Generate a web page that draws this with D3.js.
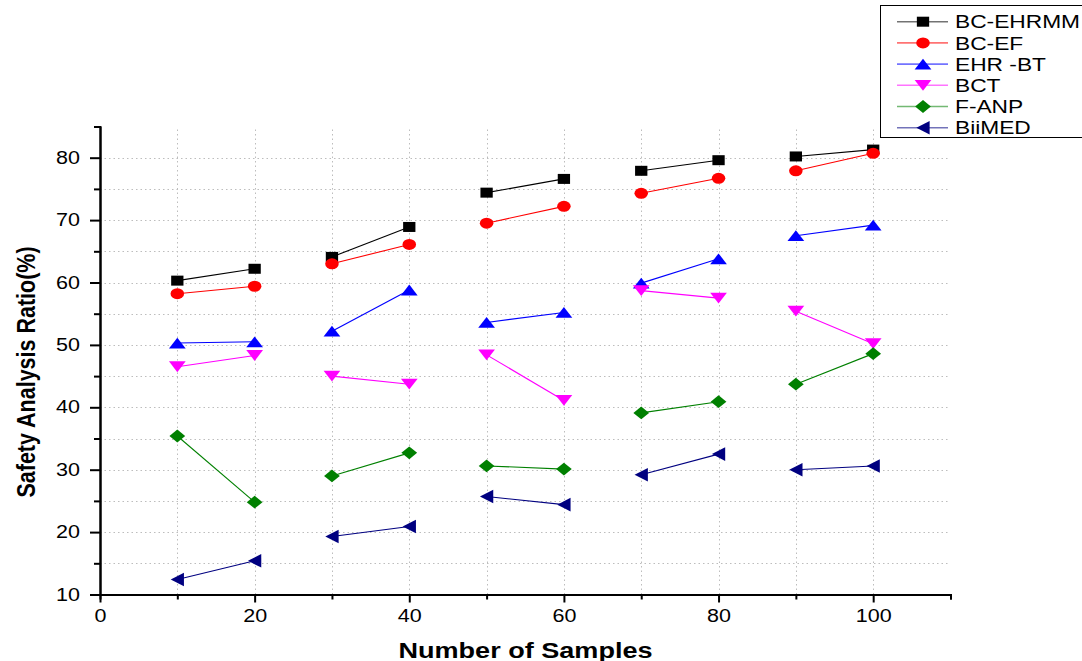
<!DOCTYPE html>
<html>
<head>
<meta charset="utf-8">
<script src="https://cdn.jsdelivr.net/npm/d3@7"></script>
<style>
  html, body { margin: 0; padding: 0; background: #fff; }
  svg { display: block; font-family: "Liberation Sans", Arial, sans-serif; }
</style>
</head>
<body>
<svg id="chart" width="1082" height="661"></svg>
<script>
// ── Data ──────────────────────────────────────────────
const samples  = [10, 20, 30, 40, 50, 60, 70, 80, 90, 100];
const bcEhrmm  = [60.3, 62.2, 64.1, 68.9, 74.4, 76.6, 77.9, 79.6, 80.2, 81.3];
const bcEf     = [58.2, 59.4, 63.0, 66.1, 69.5, 72.2, 74.3, 76.7, 77.9, 80.7];
const ehrBt    = [50.3, 50.5, 52.2, 58.8, 53.6, 55.2, 59.9, 63.8, 67.5, 69.2];
const bct      = [46.5, 48.3, 45.0, 43.7, 48.4, 41.1, 58.7, 57.5, 55.4, 50.2];
const fAnp     = [35.4, 24.8, 29.0, 32.7, 30.6, 30.1, 39.1, 40.9, 43.7, 48.6];
const biiMed   = [12.4, 15.4, 19.3, 20.9, 25.7, 24.4, 29.2, 32.5, 30.0, 30.6];

const seriesNames  = ['BC-EHRMM', 'BC-EF', 'EHR -BT', 'BCT', 'F-ANP', 'BiiMED'];
const seriesValues = [bcEhrmm, bcEf, ehrBt, bct, fAnp, biiMed];
const seriesColors = ['#000000', '#ff0000', '#0000ff', '#ff00ff', '#008000', '#000080'];
const seriesShapes = ['square', 'circle', 'up', 'down', 'diamond', 'left'];

const xTicks = [0, 20, 40, 60, 80, 100];
const yTicks = [10, 20, 30, 40, 50, 60, 70, 80];

// Origin export is stretched horizontally
const SX = 1.23;

// ── Scales ────────────────────────────────────────────
const x = d3.scaleLinear().domain([0, 110]).range([100, 950.5]);
const y = d3.scaleLinear().domain([10, 85]).range([594.5, 126.5]);

const svg = d3.select('#chart');

// ── Grid (dotted) ─────────────────────────────────────
const grid = svg.append('g')
  .attr('stroke', '#bdbdbd')
  .attr('stroke-width', 1)
  .attr('stroke-dasharray', '1.5 3');

grid.selectAll('.hg')
  .data(d3.range(15, 81, 5))
  .join('line')
    .attr('x1', x(0)).attr('x2', x(110))
    .attr('y1', d => Math.round(y(d)) + 0.5)
    .attr('y2', d => Math.round(y(d)) + 0.5);

grid.selectAll('.vg')
  .data(d3.range(10, 101, 10))
  .join('line')
    .attr('x1', d => Math.round(x(d)) + 0.5)
    .attr('x2', d => Math.round(x(d)) + 0.5)
    .attr('y1', y(10)).attr('y2', y(85));

// ── Axes ─────────────────────────────────────────────
const styleAxis = sel => sel
  .call(ax => ax.select('.domain').attr('stroke', '#000').attr('stroke-width', 2))
  .call(ax => ax.selectAll('.tick line').attr('stroke', '#000').attr('stroke-width', 2))
  .call(ax => ax.selectAll('text')
    .attr('fill', '#000')
    .attr('font-size', 17.5)
    .attr('font-family', '"Liberation Sans", Arial, sans-serif')
    .attr('transform', `scale(${SX},1)`));

// minor ticks
svg.append('g')
  .attr('transform', `translate(0,${y(10)})`)
  .call(d3.axisBottom(x).tickValues(d3.range(10, 111, 20)).tickSize(5).tickFormat(''))
  .call(styleAxis);
svg.append('g')
  .attr('transform', `translate(${x(0)},0)`)
  .call(d3.axisLeft(y).tickValues(d3.range(15, 86, 10)).tickSize(6).tickFormat(''))
  .call(styleAxis);

// major ticks + labels
svg.append('g')
  .attr('transform', `translate(0,${y(10)})`)
  .call(d3.axisBottom(x).tickValues(xTicks).tickSize(8).tickPadding(7).tickSizeOuter(0))
  .call(styleAxis);
svg.append('g')
  .attr('transform', `translate(${x(0)},0)`)
  .call(d3.axisLeft(y).tickValues(yTicks).tickSize(10).tickPadding(6.3).tickSizeOuter(0))
  .call(styleAxis);

// Axis titles
svg.append('text')
  .attr('transform', `translate(525.5,658) scale(${SX},1)`)
  .attr('text-anchor', 'middle')
  .attr('font-weight', 'bold')
  .attr('font-size', 22)
  .text('Number of Samples');

svg.append('text')
  .attr('transform', `translate(34.5,372) scale(${SX},1) rotate(-90)`)
  .attr('text-anchor', 'middle')
  .attr('font-weight', 'bold')
  .attr('font-size', 21.5)
  .text('Safety Analysis Ratio(%)');

// ── Marker shapes (centred on bbox) ──────────────────
function shapePath(shape) {
  switch (shape) {
    case 'square':  return 'M-5,-5H5V5H-5Z';
    case 'circle':  return d3.arc()({ innerRadius: 0, outerRadius: 5.5, startAngle: 0, endAngle: 2 * Math.PI });
    case 'up':      return 'M0,-5.4L6.8,5.4H-6.8Z';
    case 'down':    return 'M0,5.4L6.8,-5.4H-6.8Z';
    case 'left':    return 'M-5.4,0L5.4,-6.8V6.8Z';
    case 'diamond': return 'M0,-6.4L6.4,0L0,6.4L-6.4,0Z';
  }
}

const pairLine = d3.line().x(d => x(d[0])).y(d => y(d[1]));

seriesValues.forEach((vals, si) => {
  const color = seriesColors[si];
  const pts = samples.map((s, i) => [s, vals[i]]);
  const g = svg.append('g');

  // lines join samples two at a time (10-20, 30-40, ...)
  g.selectAll('path.seg')
    .data(d3.range(0, pts.length, 2).map(i => pts.slice(i, i + 2)))
    .join('path')
      .attr('class', 'seg')
      .attr('d', pairLine)
      .attr('fill', 'none')
      .attr('stroke', color)
      .attr('stroke-width', 1.1);

  g.selectAll('path.mk')
    .data(pts)
    .join('path')
      .attr('class', 'mk')
      .attr('d', shapePath(seriesShapes[si]))
      .attr('transform', d => `translate(${x(d[0])},${y(d[1])}) scale(${SX},1)`)
      .attr('fill', color);
});

// ── Legend ───────────────────────────────────────────
const legend = svg.append('g');
legend.append('rect')
  .attr('x', 880.5).attr('y', 5.5)
  .attr('width', 220).attr('height', 132)
  .attr('fill', '#fff')
  .attr('stroke', '#000')
  .attr('stroke-width', 1);

seriesNames.forEach((name, i) => {
  const cy = 21.7 + i * 21.2;
  legend.append('line')
    .attr('x1', 897).attr('x2', 948)
    .attr('y1', cy).attr('y2', cy)
    .attr('stroke', seriesColors[i])
    .attr('stroke-opacity', 0.55)
    .attr('stroke-width', 1.6);
  legend.append('path')
    .attr('d', shapePath(seriesShapes[i]))
    .attr('transform', `translate(923,${cy}) scale(${SX},1)`)
    .attr('fill', seriesColors[i]);
  legend.append('text')
    .attr('transform', `translate(955,${cy + 6.6}) scale(${SX},1)`)
    .attr('font-size', 18.5)
    .attr('fill', '#000')
    .text(name);
});
</script>
</body>
</html>
